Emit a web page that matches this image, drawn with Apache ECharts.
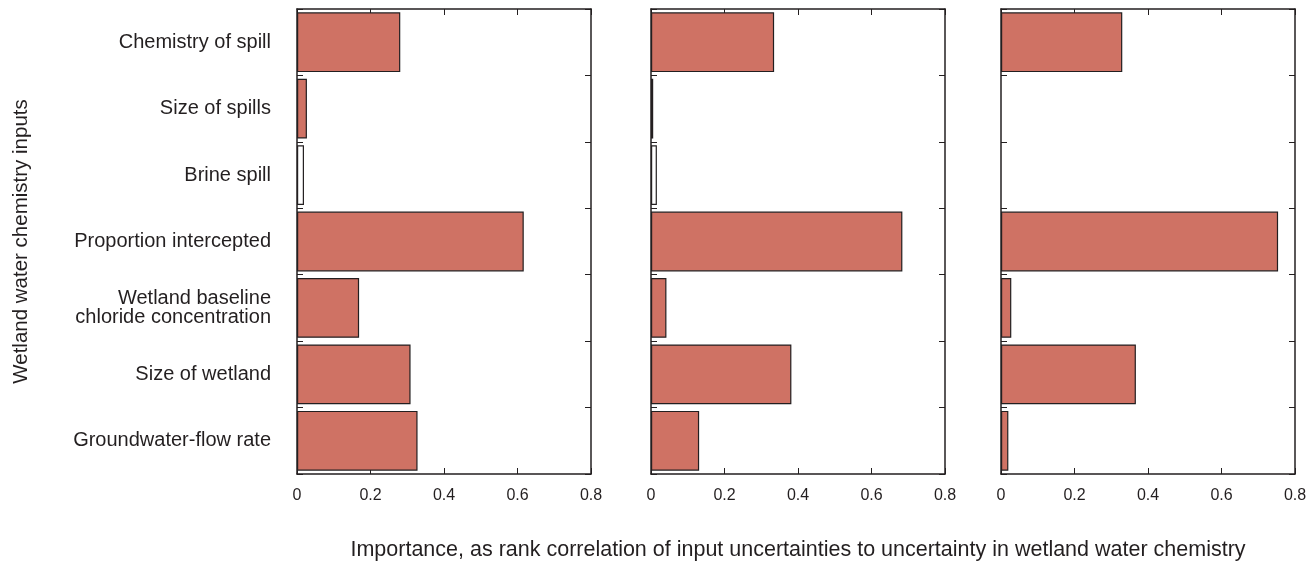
<!DOCTYPE html>
<html>
<head>
<meta charset="utf-8">
<script src="https://cdn.jsdelivr.net/npm/echarts@6/dist/echarts.min.js"></script>
<style>
html,body{margin:0;padding:0;background:#fff;}
#chart{width:1314px;height:563px;}
</style>
</head>
<body>
<div id="chart"></div>
<script>
const categories = [
  'Chemistry of spill',
  'Size of spills',
  'Brine spill',
  'Proportion intercepted',
  'Wetland baseline\nchloride concentration',
  'Size of wetland',
  'Groundwater-flow rate'
];
const panelA = [0.281, 0.027, 0.019, 0.617, 0.169, 0.309, 0.328];
const panelB = [0.335, 0.006, 0.016, 0.684, 0.042, 0.382, 0.131];
const panelC = [0.330, null, null, 0.754, 0.028, 0.367, 0.020];
const xMin = 0, xMax = 0.8, xStep = 0.2;
const yTitle = 'Wetland water chemistry inputs';
const xTitle = 'Importance, as rank correlation of input uncertainties to uncertainty in wetland water chemistry';

const panels = [panelA, panelB, panelC];
const lefts = [297, 651, 1001];
const FONT = 'Liberation Sans';
const INK = '#231f20';
const FILL = '#cf7264';

const grid = [], xAxis = [], yAxis = [], series = [];
panels.forEach((vals, i) => {
  grid.push({left: lefts[i], top: 9, width: 294, height: 465, containLabel: false, outerBoundsMode: 'none'});
  const axLine = {show: true, onZero: false, lineStyle: {color: INK, width: 1.5}};
  const tick = {show: true, inside: true, length: 6, lineStyle: {color: INK, width: 1}};
  const catTick = {show: true, inside: true, length: 6, alignWithLabel: false, lineStyle: {color: INK, width: 1}};
  xAxis.push({
    type: 'value', gridIndex: i, min: xMin, max: xMax, interval: xStep, position: 'bottom',
    axisLine: axLine, axisTick: tick, splitLine: {show: false},
    axisLabel: {show: true, margin: 14, fontFamily: FONT, fontSize: 16, color: INK,
      formatter: v => v === 0 ? '0' : v.toFixed(1)},
    name: i === 1 ? xTitle : '', nameLocation: 'middle', nameGap: 65,
    nameTextStyle: {fontFamily: FONT, fontSize: 21.5, color: INK}
  });
  xAxis.push({
    type: 'value', gridIndex: i, min: xMin, max: xMax, interval: xStep, position: 'top',
    axisLine: axLine, axisTick: tick, splitLine: {show: false}, axisLabel: {show: false}
  });
  yAxis.push({
    type: 'category', gridIndex: i, data: categories, inverse: true, position: 'left',
    axisLine: axLine, axisTick: catTick, splitLine: {show: false},
    axisLabel: {show: i === 0, margin: 26, fontFamily: FONT, fontSize: 20, color: INK, lineHeight: 19, align: 'right'},
    name: i === 0 ? yTitle : '', nameLocation: 'middle', nameGap: 265, nameRotate: 90,
    nameTextStyle: {fontFamily: FONT, fontSize: 20.5, color: INK}
  });
  yAxis.push({
    type: 'category', gridIndex: i, data: categories, inverse: true, position: 'right',
    axisLine: axLine, axisTick: catTick, splitLine: {show: false}, axisLabel: {show: false}
  });
  series.push({
    type: 'bar', xAxisIndex: 2 * i, yAxisIndex: 2 * i, data: vals,
    barCategoryGap: '10%', animation: false,
    itemStyle: {
      color: p => p.name === 'Brine spill' ? '#ffffff' : FILL,
      borderColor: INK, borderWidth: 1.2
    }
  });
});

const chart = echarts.init(document.getElementById('chart'), null, {renderer: 'canvas'});
chart.setOption({
  animation: false,
  backgroundColor: '#ffffff',
  grid, xAxis, yAxis, series
});
</script>
</body>
</html>
